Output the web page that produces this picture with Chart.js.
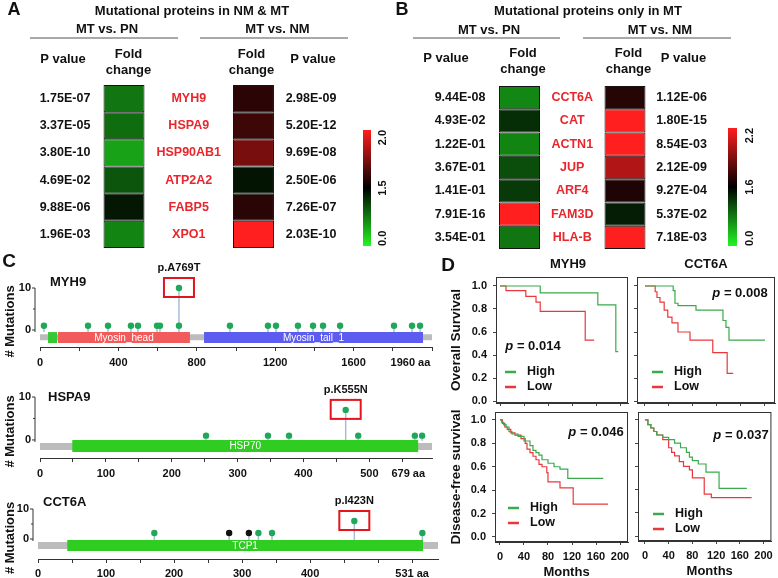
<!DOCTYPE html>
<html><head><meta charset="utf-8">
<script src="https://cdn.jsdelivr.net/npm/chart.js@4.4.1/dist/chart.umd.min.js"></script>
<style>
html,body{margin:0;padding:0;background:#fff;}
#stage{position:relative;width:778px;height:578px;overflow:hidden;background:#fff;}
#stage canvas{position:absolute;left:0;top:0;}
</style></head><body><div id="stage"></div>
<script>
// ================= DATA =================
const heatColumns = ['P value (MT vs. PN)', 'Fold change (MT vs. PN)', 'Protein', 'Fold change (MT vs. NM)', 'P value (MT vs. NM)'];

// Panel A: mutational proteins in NM & MT
const genesA = ['MYH9', 'HSPA9', 'HSP90AB1', 'ATP2A2', 'FABP5', 'XPO1'];
const pValuePN_A = ['1.75E-07', '3.37E-05', '3.80E-10', '4.69E-02', '9.88E-06', '1.96E-03'];
const foldPN_A = [0.78, 0.84, 0.51, 0.98, 1.36, 0.69];
const foldNM_A = [1.585, 1.62, 1.735, 1.38, 1.58, 2.0];
const pValueNM_A = ['2.98E-09', '5.20E-12', '9.69E-08', '2.50E-06', '7.26E-07', '2.03E-10'];
const colorScaleA = [0.0, 1.5, 2.0];
const colorbarLabelsA = ['0.0', '1.5', '2.0'];

// Panel B: mutational proteins only in MT
const genesB = ['CCT6A', 'CAT', 'ACTN1', 'JUP', 'ARF4', 'FAM3D', 'HLA-B'];
const pValuePN_B = ['9.44E-08', '4.93E-02', '1.22E-01', '3.67E-01', '1.41E-01', '7.91E-16', '3.54E-01'];
const foldPN_B = [0.72, 1.30, 0.74, 1.10, 1.23, 2.2, 0.83];
const foldNM_B = [1.69, 2.2, 2.2, 2.02, 1.67, 1.41, 2.2];
const pValueNM_B = ['1.12E-06', '1.80E-15', '8.54E-03', '2.12E-09', '9.27E-04', '5.37E-02', '7.18E-03'];
const colorScaleB = [0.0, 1.6, 2.2];
const colorbarLabelsB = ['0.0', '1.6', '2.2'];

// Panel C: lollipop plots (positions in aa, counts = # mutations)
const myh9MutPos   = [20, 245, 347, 464, 500, 597, 612, 709, 709, 969, 1163, 1204, 1316, 1393, 1444, 1531, 1806, 1898, 1939];
const myh9MutCount = [1, 1, 1, 1, 1, 1, 1, 1, 10, 1, 1, 1, 1, 1, 1, 1, 1, 1, 1];
const myh9MutType  = myh9MutPos.map(() => 'missense');
const myh9Domains  = [['Myosin_N', 41, 87], ['Myosin_head', 92, 765], ['Myosin_tail_1', 837, 1954]];
const myh9Backbone = 2000;
const myh9TickValues = [0, 400, 800, 1200, 1600, 1890];
const myh9TickLabels = ['0', '400', '800', '1200', '1600', '1960 aa'];

const hspa9MutPos   = [252, 346, 378, 464, 483, 569, 580];
const hspa9MutCount = [1, 1, 1, 7, 1, 1, 1];
const hspa9MutType  = hspa9MutPos.map(() => 'missense');
const hspa9Domains  = [['HSP70', 49, 574]];
const hspa9Backbone = 595;
const hspa9TickValues = [0, 100, 200, 300, 400, 500, 559];
const hspa9TickLabels = ['0', '100', '200', '300', '400', '500', '679 aa'];

const cct6aMutPos   = [171, 281, 310, 324, 344, 465, 565];
const cct6aMutCount = [2, 2, 2, 2, 2, 6, 2];
const cct6aMutType  = ['missense', 'truncating', 'truncating', 'missense', 'missense', 'missense', 'missense'];
const cct6aDomains  = [['TCP1', 43, 566]];
const cct6aBackbone = 588;
const cct6aTickValues = [0, 100, 200, 300, 400, 550];
const cct6aTickLabels = ['0', '100', '200', '300', '400', '531 aa'];

// Panel D: Kaplan-Meier curves (months, survival fraction)
const monthTicks = [0, 40, 80, 120, 160, 200];
const survTicks = [0, 0.2, 0.4, 0.6, 0.8, 1.0];
const osMYH9HighT = [0, 67, 163, 193, 197];
const osMYH9HighS = [1, 0.94, 0.835, 0.43, 0.43];
const osMYH9LowT  = [0, 10, 43, 60, 67, 142, 157];
const osMYH9LowS  = [1, 0.96, 0.91, 0.86, 0.78, 0.53, 0.53];
const osCCT6AHighT = [0, 47, 50, 55, 85, 130, 135, 140, 200];
const osCCT6AHighS = [1, 0.96, 0.85, 0.83, 0.79, 0.70, 0.64, 0.53, 0.53];
const osCCT6ALowT  = [0, 17, 20, 25, 32, 38, 45, 55, 75, 113, 137, 147];
const osCCT6ALowS  = [1, 0.95, 0.9, 0.86, 0.79, 0.73, 0.68, 0.6, 0.53, 0.42, 0.24, 0.24];
const dfsMYH9HighT = [0, 3, 6, 10, 15, 20, 30, 40, 50, 55, 60, 65, 70, 80, 90, 100, 113, 172];
const dfsMYH9HighS = [1, 0.98, 0.96, 0.94, 0.9, 0.88, 0.86, 0.82, 0.78, 0.74, 0.72, 0.7, 0.66, 0.63, 0.6, 0.58, 0.5, 0.5];
const dfsMYH9LowT  = [0, 4, 8, 12, 18, 25, 35, 42, 45, 50, 55, 60, 65, 70, 78, 80, 100, 122, 180];
const dfsMYH9LowS  = [1, 0.97, 0.94, 0.92, 0.89, 0.87, 0.84, 0.8, 0.75, 0.72, 0.69, 0.66, 0.62, 0.6, 0.55, 0.47, 0.42, 0.28, 0.28];
const dfsCCT6AHighT = [0, 5, 10, 15, 20, 30, 40, 50, 60, 70, 75, 80, 90, 103, 125, 172];
const dfsCCT6AHighS = [1, 0.96, 0.93, 0.9, 0.87, 0.85, 0.83, 0.8, 0.76, 0.72, 0.68, 0.65, 0.62, 0.55, 0.41, 0.41];
const dfsCCT6ALowT  = [0, 5, 10, 15, 20, 30, 40, 45, 50, 58, 65, 75, 80, 100, 112, 180];
const dfsCCT6ALowS  = [1, 0.96, 0.93, 0.9, 0.87, 0.83, 0.76, 0.72, 0.69, 0.64, 0.6, 0.57, 0.5, 0.36, 0.33, 0.33];

// ================= HELPERS =================
const FONT = "'Liberation Sans', Arial, Helvetica, sans-serif";
Chart.defaults.font.family = FONT;
Chart.defaults.color = '#111';
const W = 778, H = 578;
const stage = document.getElementById('stage');
const GREEN = '#3aaa4c', RED = '#e8383c';

function newCanvas() {
  const c = document.createElement('canvas');
  c.width = W; c.height = H;
  c.style.width = W + 'px'; c.style.height = H + 'px';
  stage.appendChild(c);
  return c;
}
// chart area given in page pixels; axW / axH = room reserved for the left / bottom axis
function pad(l, t, r, b, axW, axH) {
  axW = axW || 0; axH = axH || 0;
  return { left: l - axW, top: t, right: W - r, bottom: H - b - axH };
}
const fixW = w => (s => { s.width = w; });
const fixH = h => (s => { s.height = h; });
function baseOptions(area) {
  return {
    responsive: false, animation: false, devicePixelRatio: 1, events: [],
    layout: { padding: area, autoPadding: false },
    plugins: { legend: { display: false }, tooltip: { enabled: false }, title: { display: false } }
  };
}
const bold = s => `bold ${s}px ${FONT}`;
function txt(ctx, s, x, y, font, color, align, base) {
  ctx.save(); ctx.font = font; ctx.fillStyle = color || '#111';
  ctx.textAlign = align || 'center'; ctx.textBaseline = base || 'middle';
  ctx.fillText(s, x, y); ctx.restore();
}
function hline(ctx, x1, x2, y, color, w) {
  ctx.save(); ctx.strokeStyle = color; ctx.lineWidth = w; ctx.beginPath();
  ctx.moveTo(x1, y); ctx.lineTo(x2, y); ctx.stroke(); ctx.restore();
}
function heatColor(v, sc) {
  const mn = sc[0], md = sc[1], mx = sc[2];
  if (v <= md) {
    const t = Math.max(0, Math.min(1, (md - v) / (md - mn)));
    const g = Math.round(245 * t), o = Math.round(0.14 * g);
    return `rgb(${o},${g},${o})`;
  }
  const t = Math.max(0, Math.min(1, (v - md) / (mx - md)));
  const r = Math.round(255 * t), o = Math.round(0.12 * r);
  return `rgb(${r},${o},${o})`;
}

// ================= HEATMAPS (A, B) =================
function heatmap(c) {
  const n = c.genes.length;
  const datasets = c.genes.map((g, i) => ({
    label: g,
    data: [null, 1, null, 1, null],
    backgroundColor: [null, heatColor(c.foldPN[i], c.scale), null, heatColor(c.foldNM[i], c.scale), null],
    borderColor: '#141414', borderWidth: 1, borderSkipped: false,
    barPercentage: c.barPct, categoryPercentage: 1, stack: 'cells'
  }));
  const opts = baseOptions(c.area);
  opts.scales = {
    x: { type: 'category', stacked: true, display: false, afterFit: fixH(0) },
    y: { type: 'linear', stacked: true, min: 0, max: n, reverse: true, display: false, afterFit: fixW(0) }
  };
  const L = c.layout;
  const textPlugin = {
    id: 'heatText',
    afterDraw(chart) {
      const ctx = chart.ctx, xs = chart.scales.x, ys = chart.scales.y;
      txt(ctx, c.letter, L.letter[0], L.letter[1], bold(18));
      txt(ctx, c.title, L.title[0], L.title[1], bold(13));
      txt(ctx, 'MT vs. PN', L.grpPN[0], L.grpPN[1], bold(13));
      txt(ctx, 'MT vs. NM', L.grpNM[0], L.grpNM[1], bold(13));
      hline(ctx, L.ulPN[0], L.ulPN[1], L.ulY, '#8c8c8c', 1.3);
      hline(ctx, L.ulNM[0], L.ulNM[1], L.ulY, '#8c8c8c', 1.3);
      txt(ctx, 'P value', L.hdrPL, L.hdrPY, bold(13));
      txt(ctx, 'P value', L.hdrPR, L.hdrPY, bold(13));
      txt(ctx, 'Fold', L.hdrFL, L.hdrF1, bold(13));
      txt(ctx, 'change', L.hdrFL, L.hdrF2, bold(13));
      txt(ctx, 'Fold', L.hdrFR, L.hdrF1, bold(13));
      txt(ctx, 'change', L.hdrFR, L.hdrF2, bold(13));
      for (let i = 0; i < n; i++) {
        const y = ys.getPixelForValue(i + 0.5);
        txt(ctx, c.pPN[i], L.pL, y, bold(12.5));
        txt(ctx, c.genes[i], xs.getPixelForValue(2), y, bold(12.5), '#e8262c');
        txt(ctx, c.pNM[i], L.pR, y, bold(12.5));
      }
    }
  };
  new Chart(newCanvas(), { type: 'bar', data: { labels: heatColumns, datasets }, options: opts, plugins: [textPlugin] });
}

function colorbar(c) {
  const sc = c.scale;
  const opts = baseOptions(c.area);
  opts.scales = {
    x: { type: 'category', display: false, afterFit: fixH(0) },
    y: { type: 'linear', min: 0, max: 1, display: false, afterFit: fixW(0) }
  };
  const ds = {
    data: [[0, 1]], barPercentage: 1, categoryPercentage: 1, borderWidth: 0,
    backgroundColor: (ctx) => {
      const ca = ctx.chart.chartArea;
      if (!ca) return '#000';
      const g = ctx.chart.ctx.createLinearGradient(0, ca.bottom, 0, ca.top);
      for (let k = 0; k <= 20; k++) {
        const f = k / 20;
        const v = f <= 0.5 ? sc[0] + (sc[1] - sc[0]) * f * 2 : sc[1] + (sc[2] - sc[1]) * (f - 0.5) * 2;
        g.addColorStop(f, heatColor(v, sc));
      }
      return g;
    }
  };
  const lblPlugin = {
    id: 'cbLabels',
    afterDraw(chart) {
      const ctx = chart.ctx, ys = chart.scales.y, ca = chart.chartArea;
      const pos = [0, 0.5, 1];
      const aligns = ['left', 'center', 'right'];
      pos.forEach((p, i) => {
        ctx.save();
        ctx.translate(ca.right + c.labelGap, ys.getPixelForValue(p));
        ctx.rotate(-Math.PI / 2);
        ctx.font = bold(11); ctx.fillStyle = '#111';
        ctx.textAlign = aligns[i]; ctx.textBaseline = 'middle';
        ctx.fillText(c.labels[i], 0, 0);
        ctx.restore();
      });
    }
  };
  new Chart(newCanvas(), { type: 'bar', data: { labels: ['scale'], datasets: [ds] }, options: opts, plugins: [lblPlugin] });
}

// ================= LOLLIPOPS (C) =================
const domainColors = { 'Myosin_N': '#34c934', 'Myosin_head': '#f25b5b', 'Myosin_tail_1': '#5c5cf0', 'HSP70': '#2fcc22', 'TCP1': '#2fcc22' };
function lollipop(c) {
  const labelMap = new Map(c.tickValues.map((v, i) => [v, c.tickLabels[i]]));
  const minor = [];
  for (let v = 0; v <= c.xMax + 1e-9; v += c.minorStep) minor.push(v);
  const minorSet = new Set(minor);
  const allTicks = Array.from(new Set([...minor, ...c.tickValues])).sort((a, b) => a - b);
  const ds = [];
  ds.push({ data: c.pos.map((p, i) => ({ x: p, y: c.count[i] })), showLine: false, pointRadius: 3.2,
    pointBackgroundColor: c.type.map(t => t === 'truncating' ? '#111111' : '#1fa85a'), pointBorderWidth: 0, clip: false });
  c.domains.forEach(d => ds.push({ data: [{ x: d[1], y: c.domainY }, { x: d[2], y: c.domainY }], showLine: true,
    borderColor: domainColors[d[0]], borderWidth: c.domainW, borderCapStyle: 'butt', pointRadius: 0 }));
  ds.push({ data: [{ x: 0, y: c.backboneY }, { x: c.backbone, y: c.backboneY }], showLine: true,
    borderColor: '#bcbcbc', borderWidth: c.backboneW, borderCapStyle: 'butt', pointRadius: 0 });
  const stems = [];
  c.pos.forEach((p, i) => { stems.push({ x: p, y: c.stemBase }, { x: p, y: c.count[i] }, { x: p, y: null }); });
  ds.push({ data: stems, showLine: true, spanGaps: false, borderColor: '#a6bed8', borderWidth: 1.5, pointRadius: 0 });

  const opts = baseOptions(c.area);
  opts.scales = {
    x: { type: 'linear', min: 0, max: c.xMax, afterFit: fixH(c.axH),
      afterBuildTicks: s => { s.ticks = allTicks.map(v => ({ value: v })); },
      ticks: { callback: v => (labelMap.has(v) ? labelMap.get(v) : ''), font: { size: 11, weight: 'bold' }, color: '#111', padding: c.tickPad, maxRotation: 0, minRotation: 0, autoSkip: false },
      grid: { drawOnChartArea: false, drawTicks: true, tickLength: 4, color: ctx => (ctx.tick && !minorSet.has(ctx.tick.value)) ? 'rgba(0,0,0,0)' : '#333' },
      border: { display: true, color: '#333', width: 1 } },
    y: { type: 'linear', min: c.yMin, max: 10, display: false, afterFit: fixW(0) }
  };
  const deco = {
    id: 'lollipopDeco',
    afterDraw(chart) {
      const ctx = chart.ctx, xs = chart.scales.x, ys = chart.scales.y, ca = chart.chartArea;
      // y axis (0..10)
      const ax = ca.left - 5;
      const y0 = ys.getPixelForValue(0), y10 = ys.getPixelForValue(10);
      ctx.save(); ctx.strokeStyle = '#333'; ctx.lineWidth = 1;
      ctx.beginPath(); ctx.moveTo(ax, y10); ctx.lineTo(ax, y0 + 2); ctx.stroke();
      [0, 5, 10].forEach(v => { const yy = ys.getPixelForValue(v); ctx.beginPath(); ctx.moveTo(ax - (v === 5 ? 2 : 3), yy); ctx.lineTo(ax, yy); ctx.stroke(); });
      ctx.restore();
      txt(ctx, '10', ax - 4, y10, bold(11), '#111', 'right');
      txt(ctx, '0', ax - 4, y0, bold(11), '#111', 'right');
      ctx.save(); ctx.translate(c.yTitleX, (y10 + ca.bottom) / 2 + 4); ctx.rotate(-Math.PI / 2);
      txt(ctx, '# Mutations', 0, 0, bold(13)); ctx.restore();
      // gene name / panel letter
      txt(ctx, c.gene, c.name[0], c.name[1], bold(13), '#111', 'left');
      if (c.letter) txt(ctx, c.letter[0], c.letter[1], c.letter[2], bold(19));
      // domain labels
      c.domains.forEach(d => {
        const x1 = xs.getPixelForValue(d[1]), x2 = xs.getPixelForValue(d[2]);
        if (x2 - x1 > 40) txt(ctx, d[0], (x1 + x2) / 2, ys.getPixelForValue(c.domainY) + 0.5, `10px ${FONT}`, '#ffffff');
      });
      // highlight
      const hx = xs.getPixelForValue(c.pos[c.hl]), hy = ys.getPixelForValue(c.count[c.hl]);
      ctx.save(); ctx.strokeStyle = '#e3141c'; ctx.lineWidth = 2;
      ctx.strokeRect(hx - 15, hy - 10, 30, 19); ctx.restore();
      txt(ctx, c.hlLabel, hx, hy - 20, bold(11));
    }
  };
  new Chart(newCanvas(), { type: 'scatter', data: { datasets: ds }, options: opts, plugins: [deco] });
}

// ================= SURVIVAL (D) =================
function survival(c) {
  const ds = [
    { label: 'High', data: c.highT.map((t, i) => ({ x: t, y: c.highS[i] })), borderColor: GREEN, borderWidth: 1.2, stepped: 'before', showLine: true, pointRadius: 0 },
    { label: 'Low', data: c.lowT.map((t, i) => ({ x: t, y: c.lowS[i] })), borderColor: RED, borderWidth: 1.2, stepped: 'before', showLine: true, pointRadius: 0 }
  ];
  const opts = baseOptions(c.area);
  opts.scales = {
    x: { type: 'linear', min: c.xr[0], max: c.xr[1], afterFit: fixH(22),
      afterBuildTicks: s => { s.ticks = monthTicks.map(v => ({ value: v })); },
      ticks: { display: c.showX, font: { size: 11, weight: 'bold' }, color: '#111', padding: 5, maxRotation: 0, minRotation: 0, autoSkip: false },
      grid: { drawOnChartArea: false, drawTicks: true, tickLength: 3, color: '#444' }, border: { display: true, color: '#333' } },
    y: { type: 'linear', min: c.yr[0], max: c.yr[1], afterFit: fixW(36),
      afterBuildTicks: s => { s.ticks = survTicks.map(v => ({ value: v })); },
      ticks: { display: c.showY, callback: v => Number(v).toFixed(1), font: { size: 11, weight: 'bold' }, color: '#111', padding: 6, autoSkip: false },
      grid: { drawOnChartArea: false, drawTicks: true, tickLength: 3, color: '#444' }, border: { display: true, color: '#333' } }
  };
  const deco = {
    id: 'survDeco',
    afterDraw(chart) {
      const ctx = chart.ctx, ca = chart.chartArea;
      ctx.save(); ctx.strokeStyle = '#333'; ctx.lineWidth = 1;
      ctx.strokeRect(ca.left + 0.5, ca.top + 0.5, ca.right - ca.left - 1, ca.bottom - ca.top - 1); ctx.restore();
      if (c.title) txt(ctx, c.title, (ca.left + ca.right) / 2 + c.titleDx, ca.top - 13, bold(13));
      if (c.letter) txt(ctx, c.letter[0], c.letter[1], c.letter[2], bold(19));
      // p value
      ctx.save();
      const f1 = `italic bold 13px ${FONT}`, f2 = bold(13);
      ctx.font = f1; const w1 = ctx.measureText('p').width;
      ctx.font = f2; const rest = ' = ' + c.p; const w2 = ctx.measureText(rest).width;
      const x0 = c.pPos[0] - (w1 + w2) / 2;
      ctx.textBaseline = 'middle'; ctx.textAlign = 'left'; ctx.fillStyle = '#111';
      ctx.font = f1; ctx.fillText('p', x0, c.pPos[1]);
      ctx.font = f2; ctx.fillText(rest, x0 + w1, c.pPos[1]);
      ctx.restore();
      // legend
      chart.data.datasets.forEach((d, i) => {
        const y = c.leg[1] + i * 15;
        ctx.save(); ctx.strokeStyle = d.borderColor; ctx.lineWidth = 2.5;
        ctx.beginPath(); ctx.moveTo(c.leg[0], y); ctx.lineTo(c.leg[0] + 11, y); ctx.stroke(); ctx.restore();
        txt(ctx, d.label, c.leg[0] + 22, y, bold(12.5), '#111', 'left');
      });
      if (c.yTitle) {
        ctx.save(); ctx.translate(c.yTitleX, (ca.top + ca.bottom) / 2); ctx.rotate(-Math.PI / 2);
        txt(ctx, c.yTitle, 0, 0, bold(13.5)); ctx.restore();
      }
      if (c.showX) txt(ctx, 'Months', (ca.left + ca.right) / 2 + 5, ca.bottom + 30, bold(13));
    }
  };
  new Chart(newCanvas(), { type: 'scatter', data: { datasets: ds }, options: opts, plugins: [deco] });
}

// ================= BUILD =================
heatmap({
  genes: genesA, pPN: pValuePN_A, foldPN: foldPN_A, foldNM: foldNM_A, pNM: pValueNM_A, scale: colorScaleA,
  area: pad(26.9, 85, 350.6, 248), barPct: 0.633, letter: 'A', title: 'Mutational proteins in NM & MT',
  layout: { letter: [14, 10], title: [192, 11], grpPN: [107, 29], grpNM: [277.5, 29], ulPN: [30, 178], ulNM: [200, 348], ulY: 38,
    hdrPL: 63, hdrPR: 313, hdrPY: 59, hdrFL: 128.5, hdrFR: 251.5, hdrF1: 54, hdrF2: 70, pL: 65, pR: 311 }
});
colorbar({ area: pad(363, 130, 371, 246), scale: colorScaleA, labels: colorbarLabelsA, labelGap: 12 });

heatmap({
  genes: genesB, pPN: pValuePN_B, foldPN: foldPN_B, foldNM: foldNM_B, pNM: pValueNM_B, scale: colorScaleB,
  area: pad(440.4, 86, 704.1, 249), barPct: 0.777, letter: 'B', title: 'Mutational proteins only in MT',
  layout: { letter: [402, 10], title: [588, 11], grpPN: [489, 30], grpNM: [660, 30], ulPN: [413, 560], ulNM: [583, 731], ulY: 38,
    hdrPL: 446, hdrPR: 683.5, hdrPY: 58, hdrFL: 523, hdrFR: 628.5, hdrF1: 53, hdrF2: 69, pL: 460, pR: 681.5 }
});
colorbar({ area: pad(728, 128, 737, 246), scale: colorScaleB, labels: colorbarLabelsB, labelGap: 13 });

lollipop({
  gene: 'MYH9', letter: ['C', 9, 262], pos: myh9MutPos, count: myh9MutCount, type: myh9MutType, domains: myh9Domains,
  backbone: myh9Backbone, hl: 8, hlLabel: 'p.A769T', tickValues: myh9TickValues, tickLabels: myh9TickLabels, minorStep: 200,
  area: pad(40, 288, 432, 347, 0, 24), axH: 24, tickPad: 5, xMax: 2000, yMin: -4.05, domainY: -1.8, domainW: 11, backboneY: -1.7, backboneW: 6, stemBase: -0.5,
  name: [50, 282], yTitleX: 10
});
lollipop({
  gene: 'HSPA9', letter: null, pos: hspa9MutPos, count: hspa9MutCount, type: hspa9MutType, domains: hspa9Domains,
  backbone: hspa9Backbone, hl: 3, hlLabel: 'p.K555N', tickValues: hspa9TickValues, tickLabels: hspa9TickLabels, minorStep: 50,
  area: pad(40, 397, 432, 458, 0, 24), axH: 24, tickPad: 5, xMax: 595, yMin: -4.2, domainY: -1.4, domainW: 12, backboneY: -1.5, backboneW: 7, stemBase: -0.2,
  name: [48, 397], yTitleX: 10
});
lollipop({
  gene: 'CCT6A', letter: null, pos: cct6aMutPos, count: cct6aMutCount, type: cct6aMutType, domains: cct6aDomains,
  backbone: cct6aBackbone, hl: 5, hlLabel: 'p.I423N', tickValues: cct6aTickValues, tickLabels: cct6aTickLabels, minorStep: 50,
  area: pad(38, 509, 438, 559, 0, 19), axH: 19, tickPad: 4, xMax: 588, yMin: -6.67, domainY: -2.17, domainW: 11, backboneY: -2.17, backboneW: 7, stemBase: -0.4,
  name: [43, 502], yTitleX: 10
});

survival({ title: 'MYH9', titleDx: 6, letter: ['D', 448, 266], highT: osMYH9HighT, highS: osMYH9HighS, lowT: osMYH9LowT, lowS: osMYH9LowS,
  area: pad(496, 277, 628, 403, 36, 22), xr: [-6.7, 213.3], yr: [-0.017, 1.078], showX: false, showY: true,
  p: '0.014', pPos: [533, 346], leg: [505, 372], yTitle: 'Overall Survival', yTitleX: 456 });
survival({ title: 'CCT6A', titleDx: 0, letter: null, highT: osCCT6AHighT, highS: osCCT6AHighS, lowT: osCCT6ALowT, lowS: osCCT6ALowS,
  area: pad(637, 277, 775, 403, 36, 22), xr: [-13.3, 216.7], yr: [-0.017, 1.078], showX: false, showY: false,
  p: '0.008', pPos: [740, 293], leg: [652, 372], yTitle: null });
survival({ title: null, letter: null, highT: dfsMYH9HighT, highS: dfsMYH9HighS, lowT: dfsMYH9LowT, lowS: dfsMYH9LowS,
  area: pad(495, 412, 628, 542, 36, 22), xr: [-8.3, 213.3], yr: [-0.043, 1.068], showX: true, showY: true,
  p: '0.046', pPos: [596, 432], leg: [508, 508], yTitle: 'Disease-free survival', yTitleX: 456 });
survival({ title: null, letter: null, highT: dfsCCT6AHighT, highS: dfsCCT6AHighS, lowT: dfsCCT6ALowT, lowS: dfsCCT6ALowS,
  area: pad(638, 412, 773, 541, 36, 22), xr: [-11.7, 213.3], yr: [-0.043, 1.068], showX: true, showY: false,
  p: '0.037', pPos: [741, 435], leg: [653, 514], yTitle: null });
</script>
</body></html>
